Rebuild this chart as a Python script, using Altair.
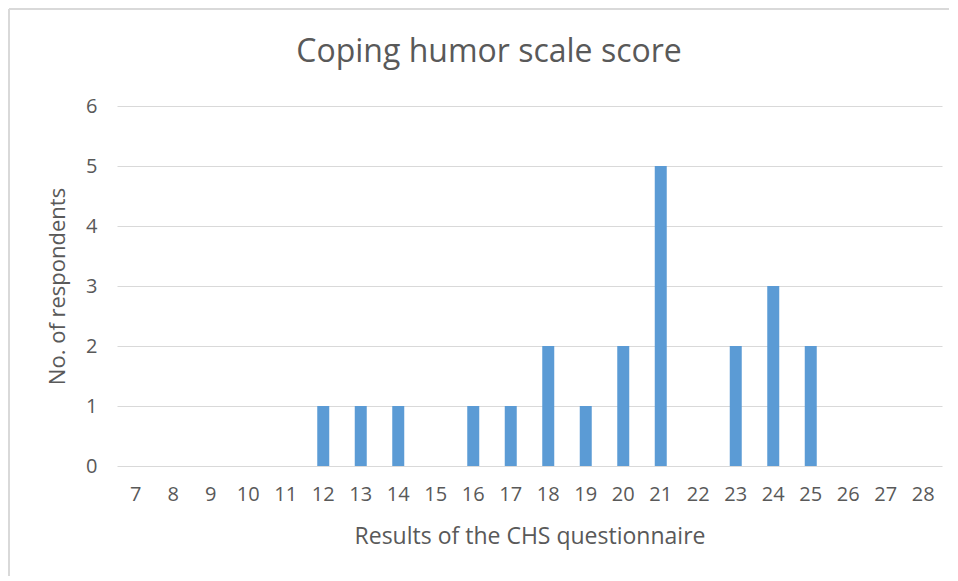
import altair as alt
import pandas as pd

scores = list(range(7, 29))
counts = [0, 0, 0, 0, 0, 1, 1, 1, 0, 1, 1, 2, 1, 2, 5, 0, 2, 3, 2, 0, 0, 0]
y_ticks = [0, 1, 2, 3, 4, 5, 6]
title_text = "Coping humor scale score"

df = pd.DataFrame({"score": [str(s) for s in scores], "count": counts})

FONT = "Open Sans"
GREY = "#595959"

bars = alt.Chart(df).mark_bar(color="#5B9BD5").encode(
    x=alt.X("score:N", sort=None,
            scale=alt.Scale(paddingInner=0.68, paddingOuter=0.34),
            axis=alt.Axis(title="Results of the CHS questionnaire", labelAngle=0,
                          domain=False, ticks=False, grid=False,
                          labelFontSize=20, labelColor=GREY, labelFont=FONT,
                          labelPadding=18, titleFontSize=23, titleColor=GREY,
                          titleFont=FONT, titleFontWeight="normal", titlePadding=21)),
    y=alt.Y("count:Q", scale=alt.Scale(domain=[0, 6]),
            axis=alt.Axis(title="No. of respondents", values=y_ticks, domain=False,
                          ticks=False, gridColor="#d9d9d9", gridWidth=1,
                          labelFontSize=20, labelColor=GREY, labelFont=FONT,
                          labelPadding=20, titleFontSize=22, titleColor=GREY,
                          titleFont=FONT, titleFontWeight="normal", titlePadding=16)),
)

title = alt.Chart(pd.DataFrame({"t": [title_text]})).mark_text(
    font=FONT, fontSize=32, color=GREY, align="center", baseline="alphabetic"
).encode(x=alt.value(372), y=alt.value(-44), text="t:N")

left_border = alt.Chart(df).mark_rule(color="#d9d9d9", strokeWidth=2).encode(
    x=alt.value(-108), y=alt.value(-97), y2=alt.value(470)
)
top_border = alt.Chart(df).mark_rule(color="#d9d9d9", strokeWidth=2).encode(
    x=alt.value(-108), x2=alt.value(832), y=alt.value(-97)
)

chart = alt.layer(bars, title, left_border, top_border).properties(
    width=825, height=360,
    padding=0,
).configure_view(stroke=None)

chart.save("out.html", embed_options={"renderer": "svg", "actions": False})
